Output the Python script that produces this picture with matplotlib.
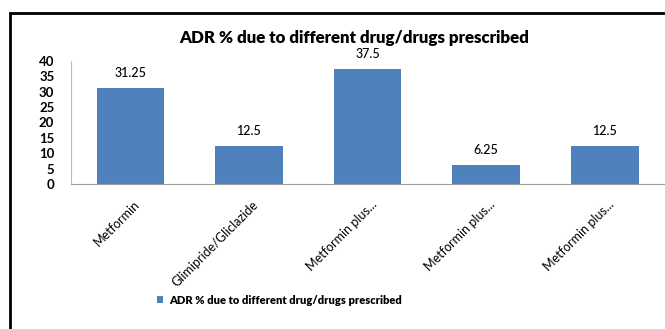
import numpy as np
import matplotlib.pyplot as plt
import matplotlib.transforms as mtransforms
from matplotlib.patches import Rectangle

# ADR share by prescribed drug / combination
drugs = ['Metformin', 'Glimipride/Gliclazide', 'Metformin plus...', 'Metformin plus...', 'Metformin plus...']
adr_pct = [31.25, 12.5, 37.5, 6.25, 12.5]
value_labels = ['31.25', '12.5', '37.5', '6.25', '12.5']
yticks = [0, 5, 10, 15, 20, 25, 30, 35, 40]
series_name = 'ADR % due to different drug/drugs prescribed'

plt.rcParams['font.family'] = ['Lato', 'DejaVu Sans']

fig = plt.figure(figsize=(6.65, 3.29), dpi=100)
ax = fig.add_axes([0.1068, 0.4407, 0.8917, 0.374])

x = np.arange(len(drugs))
bars = ax.bar(x, adr_pct, width=0.57, color='#4F81BD', label=series_name)

for xi, v, lab in zip(x, adr_pct, value_labels):
    ax.text(xi, v + 2.8, lab, ha='center', va='bottom', fontsize=9, color='black',
            fontweight='medium')

ax.set_xlim(-0.5, 4.5)
ax.set_ylim(0, 40)
ax.set_yticks(yticks)
ax.set_yticklabels([str(t) for t in yticks], fontsize=9.5, fontweight='bold')
ax.set_xticks(x)
ax.set_xticklabels(drugs, rotation=45, ha='right', rotation_mode='anchor', fontsize=9)
ax.tick_params(axis='both', length=0)
ax.tick_params(axis='y', pad=12)
ax.tick_params(axis='x', pad=4)

# nudge the slanted category labels down and to the right a little
shift = mtransforms.ScaledTranslation(3 / 100, -9 / 100, fig.dpi_scale_trans)
for lab in ax.get_xticklabels():
    lab.set_transform(lab.get_transform() + shift)

for side in ['top', 'right']:
    ax.spines[side].set_visible(False)
ax.spines['left'].set_color('#BFBFBF')
ax.spines['bottom'].set_color('#A0A0A0')

fig.text(0.532, 0.885, 'ADR % due to different drug/drugs prescribed',
         ha='center', va='center', fontsize=12.2, fontweight='heavy')

fig.legend(handles=[bars], labels=[series_name], loc='center', bbox_to_anchor=(0.42, 0.088),
           frameon=False, handlelength=0.6, handleheight=0.6, handletextpad=0.5,
           prop={'weight': 'heavy', 'size': 8})

# frame around the chart
fig.add_artist(Rectangle((10 / 665, -0.1), 1.0, 1.1 - 13 / 329, transform=fig.transFigure,
                         fill=False, edgecolor='black', linewidth=2))

fig.savefig('out.png', dpi=100)
